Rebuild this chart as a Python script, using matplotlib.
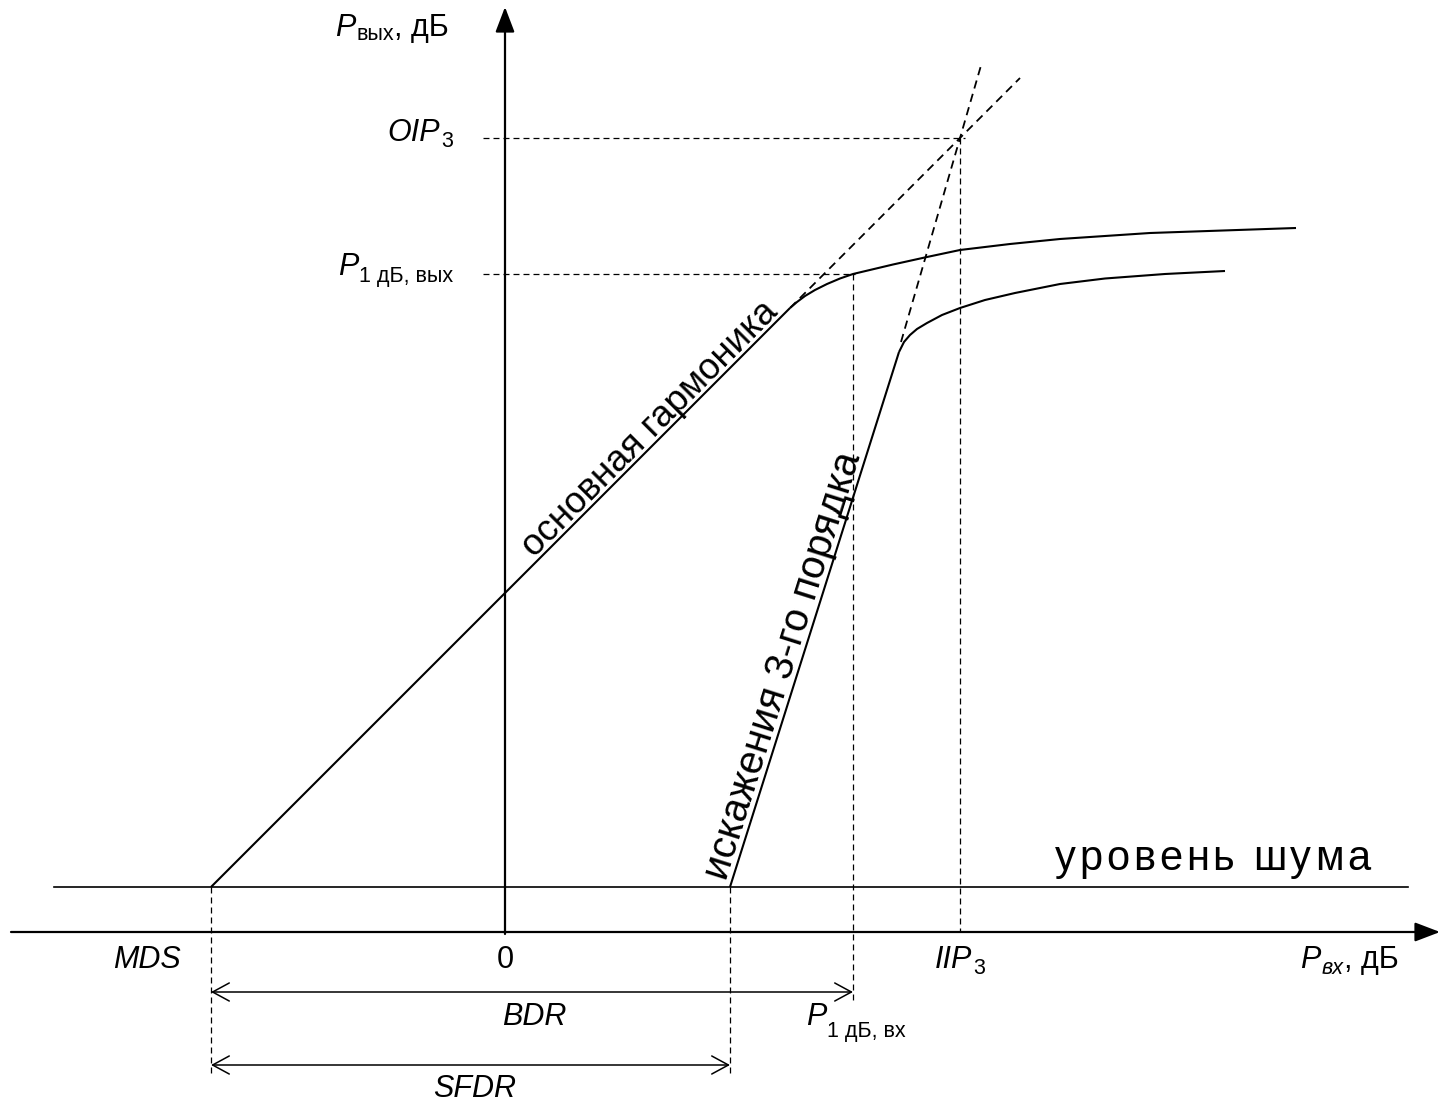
import numpy as np
import matplotlib
matplotlib.use("Agg")
import matplotlib.pyplot as plt
import matplotlib.transforms as mtransforms
from matplotlib import font_manager as fm
from matplotlib.ft2font import FT2Font

# ---- levels (dB, schematic scale) ----
noise_floor = 4.5
mds = -29.4
p1db_in, p1db_out = 34.8, 65.8
iip3, oip3 = 45.5, 79.4
sfdr_end = 22.5

# fundamental: linear region and compression
fund_lin_x = [mds, 28.5]
fund_lin_y = [noise_floor, 62.4]
fund_sat_x = [28.5, 29.2, 30.0, 31.0, 32.2, 33.5, 34.8, 38.8, 42.2, 45.5, 50.5, 55.5, 64.5, 79.1]
fund_sat_y = [62.4, 63.0, 63.6, 64.2, 64.8, 65.35, 65.8, 66.75, 67.5, 68.2, 68.8, 69.3, 69.9, 70.4]
fund_ext_x = [28.5, 51.5]
fund_ext_y = [62.4, 85.4]

# third-order intermodulation: linear region and compression
im3_lin_x = [sfdr_end, 39.4]
im3_lin_y = [noise_floor, 58.0]
im3_sat_x = [39.4, 39.9, 40.5, 41.2, 42.2, 43.7, 45.5, 48.0, 51.0, 55.5, 60.0, 66.0, 72.0]
im3_sat_y = [58.0, 59.0, 59.7, 60.3, 60.9, 61.7, 62.4, 63.2, 63.9, 64.8, 65.35, 65.8, 66.1]
im3_ext_x = [39.6, 47.7]
im3_ext_y = [59.0, 87.0]

noise_x = [-45.1, 90.3]

FONT = "Liberation Sans"
NARROW = ["Liberation Sans Narrow", "Liberation Sans"]
plt.rcParams["lines.scale_dashes"] = False

fig = plt.figure(figsize=(14.41, 11.03), dpi=100)
ax = fig.add_axes([0, 0, 1, 1])
ax.set_xlim(-50.5, 93.6)
ax.set_ylim(-17.1, 93.2)
ax.axis("off")

K = "black"
solid = dict(color=K, lw=1.5, solid_capstyle="butt")
ref = dict(color=K, lw=0.9, dashes=(4.3, 2.9))
ext = dict(color=K, lw=1.3, dashes=(6.0, 4.0))

# axes with arrows
axis_arrow = dict(arrowstyle="-|>,head_length=1.1,head_width=0.42", color=K, lw=1.6,
                  shrinkA=0, shrinkB=0, mutation_scale=14)
ax.annotate("", xy=(93.5, 0), xytext=(-49.4, 0), arrowprops=axis_arrow)
ax.annotate("", xy=(0, 92.5), xytext=(0, -0.2), arrowprops=axis_arrow)

# noise floor
ax.plot(noise_x, [noise_floor, noise_floor], color=K, lw=1.2)

# characteristics
ax.plot(fund_lin_x, fund_lin_y, **solid)
ax.plot(fund_sat_x, fund_sat_y, **solid)
ax.plot(im3_lin_x, im3_lin_y, **solid)
ax.plot(im3_sat_x, im3_sat_y, **solid)
ax.plot(fund_ext_x, fund_ext_y, **ext)
ax.plot(im3_ext_x, im3_ext_y, **ext)

# reference lines
ax.plot([-2.2, iip3 + 0.5], [oip3, oip3], **ref)
ax.plot([-2.2, p1db_in + 0.2], [p1db_out, p1db_out], **ref)
ax.plot([iip3, iip3], [oip3, 0], **ref)
ax.plot([p1db_in, p1db_in], [p1db_out, -7.2], **ref)
ax.plot([mds, mds], [noise_floor, -14.2], **ref)
ax.plot([sfdr_end, sfdr_end], [noise_floor, -14.2], **ref)

# dynamic range arrows
span = dict(arrowstyle="<->,head_length=1.2,head_width=0.65", color=K, lw=1.1,
            shrinkA=0, shrinkB=0, mutation_scale=10)
ax.annotate("", xy=(p1db_in, -6.0), xytext=(mds, -6.0), arrowprops=span)
ax.annotate("", xy=(sfdr_end, -13.3), xytext=(mds, -13.3), arrowprops=span)

renderer = fig.canvas.get_renderer()


def rich(x, y, parts, ha="left"):
    """Draw a label made of pieces (text, size, italic, drop_px) on one baseline."""
    items, xoff = [], 0.0
    for s, size, ital, drop in parts:
        t = ax.text(x, y, s, fontsize=size, family=FONT,
                    style="italic" if ital else "normal", ha="left", va="baseline")
        w = t.get_window_extent(renderer).width
        items.append((t, xoff, drop))
        xoff += w + (1.0 if ital else 0.0)
    shift = -xoff if ha == "right" else (-xoff / 2 if ha == "center" else 0.0)
    for t, xo, drop in items:
        t.set_transform(mtransforms.offset_copy(ax.transData, fig=fig, x=xo + shift,
                                                y=-drop, units="dots"))


S, s = 22, 15.5
rich(-17.0, 89.6, [("P", S, True, 0), ("вых", s, False, 4), (", дБ", S, False, 0)])
rich(-5.2, 79.1, [("OIP", S, True, 0), ("3", s, False, 6)], ha="right")
rich(-16.7, 65.7, [("P", S, True, 0), ("1 дБ, вых", s, False, 7)])
rich(-32.3, -3.6, [("MDS", S, True, 0)], ha="right")
rich(0, -3.6, [("0", S, False, 0)], ha="center")
rich(iip3, -3.6, [("IIP", S, True, 0), ("3", s, False, 6)], ha="center")
rich(79.5, -3.6, [("P", S, True, 0), ("вх", s, True, 6), (", дБ", S, False, 0)])
rich(-0.3, -9.3, [("BDR", S, True, 0)])
rich(30.1, -9.3, [("P", S, True, 0), ("1 дБ, вх", s, False, 12)])
rich(-7.2, -16.5, [("SFDR", S, True, 0)])

# letter-spaced noise floor caption
cap = "уровень шума"
cap_size = 30
ft = FT2Font(fm.findfont(fm.FontProperties(family=FONT)))
ft.set_size(cap_size, 100)
xo = 0.0
for ch in cap:
    t = ax.text(55.0, 6.2, ch, fontsize=cap_size, family=FONT, ha="left", va="baseline",
                transform=mtransforms.offset_copy(ax.transData, fig=fig, x=xo, y=0, units="dots"))
    xo += ft.load_char(ord(ch)).linearHoriAdvance / 65536 + 3.7

# labels along the characteristics
ang_f = np.degrees(np.arctan2(fund_lin_y[1] - fund_lin_y[0], fund_lin_x[1] - fund_lin_x[0]))
ang_3 = np.degrees(np.arctan2(im3_lin_y[1] - im3_lin_y[0], im3_lin_x[1] - im3_lin_x[0]))
ax.text(2.9, 37.4, "основная гармоника", rotation=ang_f, rotation_mode="anchor",
        ha="left", va="baseline", fontsize=26.5, family=NARROW)
ax.text(22.1, 5.07, "искажения 3-го порядка", rotation=ang_3, rotation_mode="anchor",
        ha="left", va="baseline", fontsize=29, family=NARROW)

fig.savefig("out.png", dpi=100)
